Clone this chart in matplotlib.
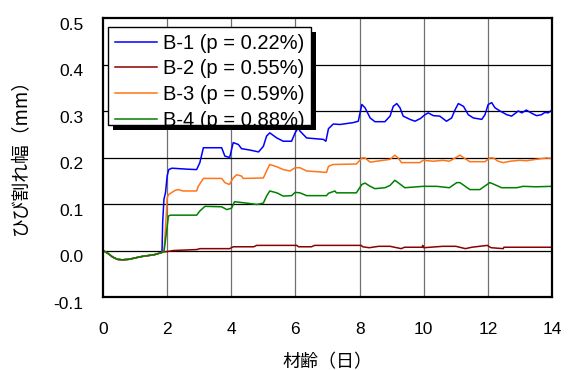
import matplotlib
matplotlib.use("Agg")
import matplotlib.pyplot as plt
import matplotlib.patheffects as pe
import matplotlib.transforms as mtrans
from matplotlib.patches import Rectangle

plt.rcParams['font.family'] = ['Liberation Sans', 'Noto Sans CJK JP', 'DejaVu Sans']

# common start (before cracking, all specimens the same)
start_days = [0, 0.15, 0.3, 0.45, 0.6, 0.8, 1.0, 1.2, 1.4, 1.6, 1.8]
start_vals = [0, -0.006, -0.014, -0.019, -0.02, -0.019, -0.016, -0.013, -0.011, -0.009, -0.005]

b1_days = [1.84, 1.86, 1.9, 1.95, 2.0, 2.05, 2.15, 2.6, 2.92, 3.02, 3.13, 3.7, 3.8, 3.95,
           4.06, 4.22, 4.32, 4.58, 4.85, 5.0, 5.1, 5.2, 5.42, 5.62, 5.88, 5.99, 6.09, 6.14,
           6.35, 6.87, 6.95, 7.03, 7.18, 7.39, 7.8, 7.96, 8.07, 8.17, 8.33, 8.48, 8.79, 8.95,
           9.05, 9.16, 9.26, 9.36, 9.57, 9.73, 9.9, 10.04, 10.14, 10.3, 10.5, 10.71, 10.87,
           10.98, 11.08, 11.24, 11.39, 11.55, 11.81, 11.91, 12.01, 12.12, 12.22, 12.38, 12.59,
           12.74, 12.95, 13.06, 13.2, 13.37, 13.52, 13.67, 13.78, 13.88, 14.0]
b1_vals = [-0.003, 0.06, 0.11, 0.125, 0.16, 0.174, 0.177, 0.175, 0.174, 0.189, 0.221, 0.221,
           0.203, 0.2, 0.232, 0.228, 0.219, 0.216, 0.212, 0.224, 0.246, 0.253, 0.242, 0.235,
           0.235, 0.253, 0.264, 0.257, 0.242, 0.239, 0.235, 0.262, 0.272, 0.271, 0.275, 0.278,
           0.314, 0.307, 0.285, 0.277, 0.277, 0.289, 0.31, 0.316, 0.307, 0.289, 0.282, 0.278,
           0.284, 0.292, 0.296, 0.29, 0.289, 0.278, 0.285, 0.303, 0.316, 0.31, 0.292, 0.285,
           0.282, 0.292, 0.314, 0.318, 0.307, 0.3, 0.292, 0.289, 0.3, 0.296, 0.302, 0.295,
           0.29, 0.292, 0.297, 0.296, 0.302]

b2_days = [1.9, 2.03, 2.2, 2.92, 3.02, 3.95, 4.06, 4.7, 4.79, 6.04, 6.1, 6.5, 6.6, 8.05, 8.1,
           8.3, 8.6, 8.95, 9.3, 9.4, 9.95, 9.97, 10.0, 10.6, 11.0, 11.3, 11.5, 11.98, 12.1,
           12.48, 12.5, 14.0]
b2_vals = [-0.003, -0.002, 0.0, 0.002, 0.004, 0.004, 0.008, 0.008, 0.011, 0.011, 0.008, 0.008,
           0.011, 0.011, 0.008, 0.006, 0.009, 0.009, 0.004, 0.007, 0.007, 0.011, 0.006, 0.009,
           0.009, 0.004, 0.007, 0.011, 0.006, 0.004, 0.007, 0.007]

b3_days = [1.9, 1.95, 2.0, 2.04, 2.24, 2.34, 2.5, 2.92, 2.97, 3.13, 3.7, 3.8, 3.94, 4.06, 4.17,
           4.32, 4.37, 5.0, 5.1, 5.2, 5.42, 5.62, 5.83, 5.99, 6.14, 6.35, 6.97, 7.03, 7.18, 7.9,
           8.07, 8.17, 8.33, 8.53, 8.95, 9.1, 9.2, 9.31, 9.88, 9.98, 10.3, 10.6, 10.8, 10.98,
           11.13, 11.3, 11.44, 11.91, 12.06, 12.17, 12.32, 12.48, 12.7, 13.0, 13.2, 13.5,
           13.83, 14.0]
b3_vals = [-0.003, 0.05, 0.113, 0.12, 0.129, 0.131, 0.128, 0.128, 0.138, 0.155, 0.155, 0.146,
           0.142, 0.156, 0.163, 0.16, 0.155, 0.156, 0.171, 0.185, 0.18, 0.174, 0.171, 0.178,
           0.178, 0.171, 0.168, 0.181, 0.185, 0.186, 0.199, 0.199, 0.19, 0.192, 0.196, 0.205,
           0.199, 0.189, 0.189, 0.194, 0.192, 0.194, 0.192, 0.199, 0.205, 0.197, 0.191, 0.191,
           0.199, 0.199, 0.192, 0.189, 0.192, 0.194, 0.193, 0.196, 0.199, 0.198]

b4_days = [1.9, 1.98, 2.04, 2.1, 2.92, 3.02, 3.18, 3.7, 3.86, 4.01, 4.1, 4.58, 4.8, 5.0, 5.1,
           5.2, 5.42, 5.62, 5.88, 5.99, 6.14, 6.35, 6.97, 7.03, 7.23, 7.28, 7.9, 8.07, 8.17,
           8.33, 8.48, 8.79, 8.95, 9.1, 9.2, 9.41, 9.98, 10.4, 10.8, 11.03, 11.13, 11.44, 11.75,
           12.06, 12.17, 12.43, 12.9, 13.1, 13.5, 14.0]
b4_vals = [-0.003, 0.04, 0.074, 0.076, 0.076, 0.085, 0.095, 0.094, 0.088, 0.091, 0.105, 0.101,
           0.099, 0.102, 0.117, 0.128, 0.124, 0.117, 0.118, 0.125, 0.124, 0.118, 0.118, 0.123,
           0.128, 0.124, 0.124, 0.142, 0.145, 0.138, 0.133, 0.135, 0.14, 0.151, 0.146, 0.135,
           0.138, 0.138, 0.135, 0.146, 0.146, 0.131, 0.131, 0.146, 0.143, 0.135, 0.135, 0.138,
           0.137, 0.138]

labels = ['B-1 (p = 0.22%)', 'B-2 (p = 0.55%)', 'B-3 (p = 0.59%)', 'B-4 (p = 0.88%)']
colors = ['#0000ff', '#8b0000', '#ff7518', '#008000']

xticks = [0, 2, 4, 6, 8, 10, 12, 14]
yticks = [-0.1, 0.0, 0.1, 0.2, 0.3, 0.4, 0.5]
ytick_labels = ['-0.1', '0.0', '0.1', '0.2', '0.3', '0.4', '0.5']

series = [(b1_days, b1_vals), (b2_days, b2_vals), (b3_days, b3_vals), (b4_days, b4_vals)]

fig = plt.figure(figsize=(5.7, 3.7), dpi=100)
ax = fig.add_axes([103 / 570, 1 - 297 / 370, 449 / 570, 279 / 370])

for (d, v), lab, c in zip(series, labels, colors):
    ax.plot(start_days + d, start_vals + v, color=c, lw=1.1, label=lab)

ax.set_xlim(0, 14)
ax.set_ylim(-0.1, 0.5)
ax.set_xticks(xticks)
ax.set_yticks(yticks)
ax.set_yticklabels(ytick_labels)
ax.tick_params(length=0, labelsize=12.5)
ax.tick_params(axis='y', pad=14)
ax.tick_params(axis='x', pad=18)
# y tick labels sit a little below their grid lines in the original
shift = mtrans.ScaledTranslation(0, -4 / 72, fig.dpi_scale_trans)
for t in ax.get_yticklabels():
    t.set_transform(t.get_transform() + shift)

for x in xticks[1:-1]:
    ax.axvline(x, color='#707070', lw=0.9, zorder=0.5)
for y in yticks[1:-1]:
    ax.axhline(y, color='black', lw=0.9, zorder=0.5)
for s in ax.spines.values():
    s.set_linewidth(1.6)

ax.set_xlabel('材齢（日）', fontsize=13, family=['Noto Sans CJK JP'])
ax.set_ylabel('ひび割れ幅（mm）', fontsize=13.5, family=['Noto Sans CJK JP'])
ax.xaxis.set_label_coords(0.5, -0.2)
ax.yaxis.set_label_coords(-0.16, 0.52)

# legend box (drawn by hand so the last entry is cut off like the original)
box = Rectangle((0.0111, 0.6165), 0.452, 0.3512, transform=ax.transAxes,
                facecolor='white', edgecolor='black', lw=1.0, zorder=4.9)
box.set_path_effects([pe.SimplePatchShadow(offset=(3.6, -3.6), shadow_rgbFace='black', alpha=1),
                      pe.Normal()])
ax.add_patch(box)

leg = ax.legend(loc='upper left', bbox_to_anchor=(0.0147, 0.962), fontsize=14.5,
                frameon=False, handlelength=2.1, handletextpad=0.3, labelspacing=0.34,
                borderpad=0.25, borderaxespad=0)
for art in leg.get_texts() + leg.get_lines():
    art.set_clip_path(box)

fig.savefig('out.png', dpi=100)
